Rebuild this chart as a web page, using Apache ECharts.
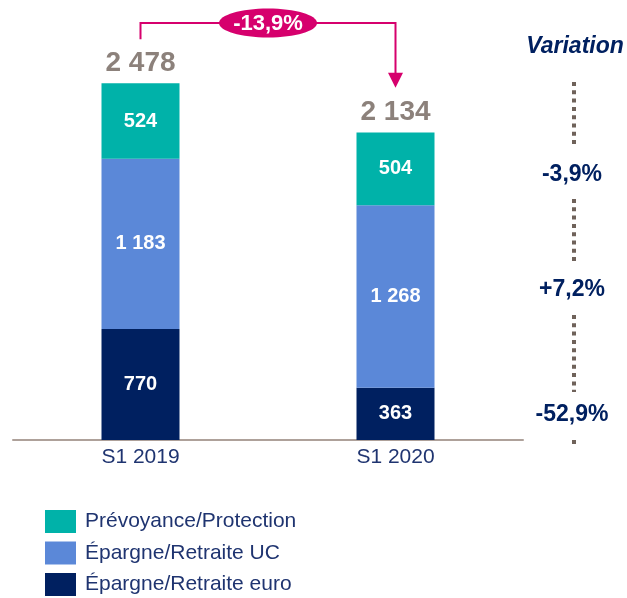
<!DOCTYPE html>
<html>
<head>
<meta charset="utf-8">
<script src="https://cdn.jsdelivr.net/npm/echarts@6/dist/echarts.min.js"></script>
<style>
  html, body { margin: 0; padding: 0; background: #fff; }
  #main { width: 627px; height: 598px; }
</style>
</head>
<body>
<div id="main"></div>
<script>
// Data
var categories = ['S1 2019', 'S1 2020'];
var euroValues = [770, 363];
var ucValues = [1183, 1268];
var prevValues = [524, 504];
var totals = [2478, 2134];
var variations = ['-3,9%', '+7,2%', '-52,9%'];
var totalChange = '-13,9%';

var NAVY = '#002060', BLUE = '#5B88D8', TEAL = '#00B2A9';
var PINK = '#D6006D', BROWN = '#6F625A';
var FONT = '"Liberation Sans", Arial, sans-serif';

var myChart = echarts.init(document.getElementById('main'));

function fmt(v) {
  // thousands separator as a space
  return String(v).replace(/\B(?=(\d{3})+(?!\d))/g, ' ');
}

function segLabel() {
  return {
    show: true,
    position: 'inside',
    color: '#fff',
    fontWeight: 'bold',
    fontSize: 20,
    fontFamily: FONT,
    formatter: function (p) { return fmt(p.value); }
  };
}

var option = {
  animation: false,
  textStyle: { fontFamily: FONT },
  grid: { left: 13, right: 104, top: 8, bottom: 158 },
  legend: {
    orient: 'vertical',
    left: 45,
    top: 510,
    height: 88,
    padding: 0,
    itemWidth: 31,
    itemHeight: 23,
    itemGap: 8.5,
    icon: 'rect',
    selectedMode: false,
    data: ['Prévoyance/Protection', 'Épargne/Retraite UC', 'Épargne/Retraite euro'],
    textStyle: { color: '#1F3470', fontSize: 21, fontFamily: FONT, padding: [0, 0, 0, 4] }
  },
  xAxis: {
    type: 'category',
    data: categories,
    axisLine: { lineStyle: { color: '#AEA19A', width: 2 } },
    axisTick: { show: false },
    axisLabel: { color: '#1F3470', fontSize: 21, margin: 7, fontFamily: FONT }
  },
  yAxis: {
    type: 'value', min: 0, max: 3000, show: false,
    splitLine: { show: false }
  },
  series: [
    {
      name: 'Épargne/Retraite euro', type: 'bar', stack: 'total', barWidth: 78,
      itemStyle: { color: NAVY }, label: segLabel(), data: euroValues
    },
    {
      name: 'Épargne/Retraite UC', type: 'bar', stack: 'total',
      itemStyle: { color: BLUE }, label: segLabel(), data: ucValues
    },
    {
      name: 'Prévoyance/Protection', type: 'bar', stack: 'total',
      itemStyle: { color: TEAL }, label: segLabel(), data: prevValues
    },
    {
      name: 'total', type: 'scatter', symbolSize: 0, silent: true,
      label: {
        show: true, position: 'top', distance: 6,
        color: BROWN, fontWeight: 'bold', fontSize: 28, fontFamily: FONT,
        formatter: function (p) { return fmt(p.value); }
      },
      data: totals
    }
  ]
};

myChart.setOption(option);

// annotations: bracket with change, variation column
var p1 = myChart.convertToPixel({ xAxisIndex: 0, yAxisIndex: 0 }, [0, totals[0]]);
var p2 = myChart.convertToPixel({ xAxisIndex: 0, yAxisIndex: 0 }, [1, totals[1]]);
var lineY = 23;
var midX = (p1[0] + p2[0]) / 2;
var colX = 574;

var graphics = [
  {
    type: 'polyline', z: 10,
    shape: { points: [[p1[0], p1[1] - 44], [p1[0], lineY], [p2[0], lineY], [p2[0], p2[1] - 58]] },
    style: { stroke: PINK, lineWidth: 2, fill: null }
  },
  {
    type: 'polygon', z: 10,
    shape: { points: [[p2[0] - 7.5, p2[1] - 60], [p2[0] + 7.5, p2[1] - 60], [p2[0], p2[1] - 45]] },
    style: { fill: PINK }
  },
  {
    type: 'ellipse', z: 11,
    shape: { cx: midX, cy: lineY, rx: 49, ry: 14.5 },
    style: { fill: PINK }
  },
  {
    type: 'text', z: 12, x: midX, y: lineY + 1,
    style: { text: totalChange, fill: '#fff', font: 'bold 22px ' + FONT, align: 'center', verticalAlign: 'middle' }
  },
  {
    type: 'text', x: 575, y: 47,
    style: { text: 'Variation', fill: NAVY, font: 'italic bold 23px ' + FONT, align: 'center', verticalAlign: 'middle' }
  }
];

var dotSegs = [[82, 146], [199, 262], [315, 392], [440, 446]];
dotSegs.forEach(function (s) {
  graphics.push({
    type: 'line',
    shape: { x1: colX, y1: s[0], x2: colX, y2: s[1] },
    style: { stroke: BROWN, lineWidth: 4, lineDash: [4, 4.3] }
  });
});

var varY = [175, 290, 415];
variations.forEach(function (v, i) {
  graphics.push({
    type: 'text', x: 572, y: varY[i],
    style: { text: v, fill: NAVY, font: 'bold 23px ' + FONT, align: 'center', verticalAlign: 'middle' }
  });
});

myChart.setOption({ graphic: graphics });
</script>
</body>
</html>
